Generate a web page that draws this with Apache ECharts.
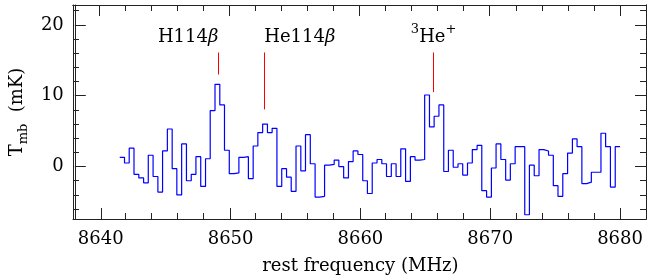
<!DOCTYPE html>
<html>
<head>
<meta charset="utf-8">
<script src="https://cdn.jsdelivr.net/npm/echarts@6/dist/echarts.min.js"></script>
<style>
html,body{margin:0;padding:0;background:#fff;}
#chart{width:648px;height:280px;}
</style>
</head>
<body>
<div id="chart"></div>
<script>
// Channel left edges (MHz) - last entry is the right edge of the last channel
const freqEdges = [
  8641.46, 8641.83, 8642.19, 8642.56, 8642.93, 8643.30, 8643.66, 8644.03, 8644.40, 8644.76,
  8645.13, 8645.50, 8645.86, 8646.23, 8646.60, 8646.97, 8647.33, 8647.70, 8648.07, 8648.43,
  8648.80, 8649.17, 8649.53, 8649.90, 8650.27, 8650.64, 8651.00, 8651.37, 8651.74, 8652.10,
  8652.47, 8652.84, 8653.20, 8653.57, 8653.94, 8654.31, 8654.67, 8655.04, 8655.41, 8655.77,
  8656.14, 8656.51, 8656.87, 8657.24, 8657.61, 8657.98, 8658.34, 8658.71, 8659.08, 8659.44,
  8659.81, 8660.18, 8660.54, 8660.91, 8661.28, 8661.65, 8662.01, 8662.38, 8662.75, 8663.11,
  8663.48, 8663.85, 8664.21, 8664.58, 8664.95, 8665.32, 8665.68, 8666.05, 8666.42, 8666.78,
  8667.15, 8667.52, 8667.88, 8668.25, 8668.62, 8668.99, 8669.35, 8669.72, 8670.09, 8670.45,
  8670.82, 8671.19, 8671.55, 8671.92, 8672.29, 8672.66, 8673.02, 8673.39, 8673.76, 8674.12,
  8674.49, 8674.86, 8675.22, 8675.59, 8675.96, 8676.33, 8676.69, 8677.06, 8677.43, 8677.79,
  8678.16, 8678.53, 8678.89, 8679.26, 8679.63, 8680.00
];
// Main-beam temperature per channel (mK)
const tmb = [
  1.3, 0.5, 2.6, -1.1, -1.6, -2.3, 1.6, -1.4, -3.6, 2.2,
  5.3, -0.3, -4.0, 3.2, -2.0, -1.1, 1.4, -2.8, 1.1, 7.9,
  11.6, 8.7, 2.3, -1.0, -0.9, 1.3, 1.4, -1.7, 2.9, 4.8,
  6.0, 4.8, 5.4, -2.8, -0.3, -1.5, -3.5, 2.9, -0.6, 4.5,
  0.4, -4.3, -4.2, 0.2, 0.3, 0.9, 0.0, -1.6, 0.7, 2.2,
  1.7, -2.0, -3.8, 0.5, 1.0, 0.4, -1.4, 0.4, -1.4, 2.5,
  -2.1, 1.4, 0.9, 1.0, 10.1, 5.6, 7.1, 8.7, -0.7, 2.3,
  -0.1, 0.4, -1.2, 0.5, 2.4, 3.0, -3.4, -4.3, -0.2, 3.2,
  1.0, -1.9, 0.4, 2.8, 2.8, -6.8, 0.2, -1.3, 2.4, 2.2,
  1.6, -2.7, -4.2, -1.0, 1.9, 3.9, 2.8, -2.4, -2.2, -0.8,
  -0.8, 4.7, 2.8, -2.9, 2.8
];
// Line identifications
const lineFreqs = [8649.06, 8652.59, 8665.64];
const lineMarkTop = 16.1;
const lineMarkBottom = [13.0, 8.07, 10.5];
const lineLabels = ['{n|H114}{it|β}', '{n|He114}{it|β}', '{s|3}{n|He}{s|+}'];
const lineLabelAlign = ['right', 'left', 'center'];
const lineLabelY = 17.7;
// Axes
const xMin = 8638, xMax = 8682;
const xMajor = [8640, 8650, 8660, 8670, 8680];
const xMinor = [8642, 8644, 8646, 8648, 8652, 8654, 8656, 8658, 8662, 8664, 8666, 8668, 8672, 8674, 8676, 8678];
const yMin = -7.4, yMax = 22.8;
const yMajor = [0, 10, 20];
const yMinor = [-6, -4, -2, 2, 4, 6, 8, 12, 14, 16, 18, 22];

const FONT = 'DejaVu Serif';
const AX = '#222';

const stepData = freqEdges.map((f, i) => [f, tmb[Math.min(i, tmb.length - 1)]]);

const gridRect = {left: 73, right: 2, top: 5, bottom: 61, containLabel: false};

function ax(kind, gi, pos, ticks, len, labels) {
  return {
    type: 'value', gridIndex: gi, position: pos,
    min: kind === 'x' ? xMin : yMin, max: kind === 'x' ? xMax : yMax,
    axisLine: {show: true, onZero: false, lineStyle: {color: AX, width: 1}},
    axisTick: {show: true, inside: true, length: len, customValues: ticks, lineStyle: {color: AX, width: 1}},
    axisLabel: labels ? {show: true, customValues: ticks, margin: 11, fontFamily: FONT, fontSize: 18, color: '#000',
      formatter: v => String(v)} : {show: false},
    splitLine: {show: false}
  };
}

const xAxes = [
  ax('x', 0, 'bottom', xMajor, 11, true),
  ax('x', 1, 'bottom', xMinor, 6, false),
  ax('x', 2, 'top', xMajor, 11, false),
  ax('x', 3, 'top', xMinor, 6, false)
];
xAxes[0].name = 'rest frequency (MHz)';
xAxes[0].nameLocation = 'middle';
xAxes[0].nameGap = 38;
xAxes[0].nameTextStyle = {fontFamily: FONT, fontSize: 18, color: '#000'};

const yAxes = [
  ax('y', 0, 'left', yMajor, 11, true),
  ax('y', 1, 'left', yMinor, 6, false),
  ax('y', 2, 'right', yMajor, 11, false),
  ax('y', 3, 'right', yMinor, 6, false)
];
yAxes[0].name = '{n|T}{s|mb}{n|  (mK)}';
yAxes[0].nameLocation = 'middle';
yAxes[0].nameGap = 44;
yAxes[0].nameTextStyle = {
  fontFamily: FONT, color: '#000',
  rich: {
    n: {fontFamily: FONT, fontSize: 18, lineHeight: 18, verticalAlign: 'top', color: '#000'},
    s: {fontFamily: FONT, fontSize: 13, lineHeight: 13, padding: [9, 0, 0, 0], verticalAlign: 'top', color: '#000'}
  }
};

const option = {
  animation: false,
  backgroundColor: '#fff',
  grid: [gridRect, gridRect, gridRect, gridRect],
  xAxis: xAxes,
  yAxis: yAxes,
  series: [
    {
      type: 'line', xAxisIndex: 0, yAxisIndex: 0,
      data: stepData, step: 'end', showSymbol: false, symbol: 'none',
      lineStyle: {color: '#0000ff', width: 1.2},
      markLine: {
        silent: true, symbol: 'none', animation: false,
        lineStyle: {color: '#ff0000', width: 1, type: 'solid'},
        label: {show: false},
        emphasis: {disabled: true},
        data: lineFreqs.map((f, i) => [{coord: [f, lineMarkTop]}, {coord: [f, lineMarkBottom[i]]}])
      }
    },
    {
      type: 'scatter', xAxisIndex: 0, yAxisIndex: 0, symbolSize: 0, silent: true,
      itemStyle: {opacity: 1},
      data: lineFreqs.map((f, i) => ({
        value: [f, lineLabelY],
        label: {
          show: true, position: [0, 0], formatter: lineLabels[i], opacity: 1,
          align: lineLabelAlign[i], verticalAlign: 'bottom', color: '#000', textBorderWidth: 0,
          rich: {
            n: {fontFamily: FONT, fontSize: 18, lineHeight: 18, padding: [5, 0, 0, 0], verticalAlign: 'top', color: '#000'},
            it: {fontFamily: FONT, fontSize: 18, lineHeight: 18, padding: [5, 0, 0, 0], verticalAlign: 'top', fontStyle: 'italic', color: '#000'},
            s: {fontFamily: FONT, fontSize: 13, lineHeight: 13, verticalAlign: 'top', color: '#000'}
          }
        }
      }))
    }
  ]
};
const chart = echarts.init(document.getElementById('chart'), null, {renderer: 'canvas'});
chart.setOption(option);
</script>
</body>
</html>
